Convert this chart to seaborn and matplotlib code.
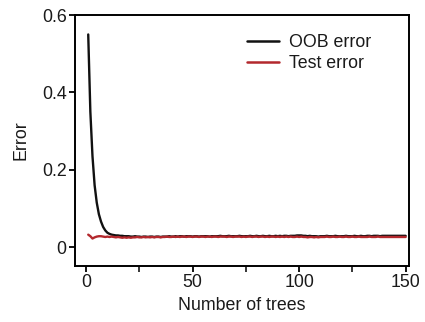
import numpy as np
import pandas as pd
import matplotlib
matplotlib.use("Agg")
import matplotlib.pyplot as plt
import seaborn as sns

trees = list(range(1, 151))

oob_error = [
    0.550, 0.350, 0.235, 0.160, 0.115, 0.085, 0.066, 0.052, 0.043, 0.037,
    0.034, 0.032, 0.031, 0.030, 0.030, 0.029, 0.029, 0.028, 0.028, 0.028,
    0.027, 0.027, 0.028, 0.027, 0.027, 0.026, 0.027, 0.027, 0.026, 0.027,
    0.027, 0.026, 0.027, 0.027, 0.026, 0.027, 0.027, 0.027, 0.028, 0.027,
    0.027, 0.028, 0.027, 0.028, 0.028, 0.027, 0.028, 0.028, 0.028, 0.027,
    0.028, 0.028, 0.027, 0.028, 0.028, 0.028, 0.028, 0.027, 0.028, 0.028,
    0.028, 0.028, 0.029, 0.028, 0.028, 0.028, 0.029, 0.028, 0.028, 0.028,
    0.028, 0.029, 0.028, 0.028, 0.028, 0.028, 0.029, 0.028, 0.028, 0.029,
    0.028, 0.028, 0.029, 0.028, 0.028, 0.029, 0.028, 0.028, 0.029, 0.028,
    0.029, 0.028, 0.029, 0.029, 0.028, 0.029, 0.029, 0.029, 0.030, 0.030,
    0.030, 0.029, 0.029, 0.028, 0.029, 0.028, 0.028, 0.028, 0.027, 0.028,
    0.028, 0.028, 0.029, 0.028, 0.028, 0.028, 0.029, 0.028, 0.028, 0.028,
    0.028, 0.029, 0.028, 0.028, 0.028, 0.029, 0.028, 0.028, 0.029, 0.028,
    0.028, 0.029, 0.029, 0.028, 0.029, 0.029, 0.029, 0.028, 0.029, 0.029,
    0.029, 0.029, 0.029, 0.029, 0.029, 0.029, 0.029, 0.029, 0.029, 0.029,
]

test_error = [
    0.032, 0.028, 0.022, 0.025, 0.027, 0.028, 0.028, 0.027, 0.026, 0.027,
    0.026, 0.027, 0.026, 0.025, 0.026, 0.025, 0.024, 0.025, 0.024, 0.025,
    0.024, 0.025, 0.025, 0.026, 0.025, 0.025, 0.026, 0.025, 0.026, 0.025,
    0.026, 0.025, 0.026, 0.026, 0.025, 0.026, 0.026, 0.027, 0.026, 0.026,
    0.027, 0.026, 0.027, 0.026, 0.027, 0.027, 0.026, 0.027, 0.027, 0.026,
    0.027, 0.027, 0.026, 0.027, 0.027, 0.026, 0.027, 0.027, 0.026, 0.027,
    0.027, 0.026, 0.027, 0.027, 0.027, 0.026, 0.027, 0.027, 0.026, 0.027,
    0.027, 0.027, 0.026, 0.027, 0.026, 0.027, 0.027, 0.026, 0.027, 0.027,
    0.026, 0.027, 0.027, 0.026, 0.027, 0.026, 0.027, 0.027, 0.026, 0.027,
    0.026, 0.027, 0.026, 0.027, 0.026, 0.027, 0.026, 0.026, 0.027, 0.026,
    0.027, 0.026, 0.026, 0.025, 0.026, 0.026, 0.025, 0.026, 0.025, 0.026,
    0.026, 0.026, 0.027, 0.026, 0.026, 0.027, 0.026, 0.026, 0.027, 0.026,
    0.026, 0.027, 0.026, 0.026, 0.027, 0.026, 0.026, 0.027, 0.026, 0.026,
    0.026, 0.026, 0.027, 0.026, 0.026, 0.026, 0.027, 0.026, 0.026, 0.026,
    0.026, 0.026, 0.026, 0.026, 0.026, 0.026, 0.026, 0.026, 0.026, 0.026,
]

series_names = ["OOB error", "Test error"]
colors = ["#111111", "#b3282d"]

x_ticks = [0, 50, 100, 150]
x_minor = [25, 75, 125]
y_ticks = [0, 0.2, 0.4, 0.6]
y_labels = ["0", "0.2", "0.4", "0.6"]

df = pd.DataFrame({
    "Number of trees": trees * 2,
    "Error": oob_error + test_error,
    "series": [series_names[0]] * len(trees) + [series_names[1]] * len(trees),
})

sns.set_style("ticks")
plt.rcParams["font.family"] = ["Liberation Sans", "DejaVu Sans"]

FS = 12.8

fig = plt.figure(figsize=(4.25, 3.22), dpi=100)
ax = fig.add_axes([0.1765, 0.174, 0.7855, 0.779])

sns.lineplot(data=df, x="Number of trees", y="Error", hue="series",
             palette=dict(zip(series_names, colors)), linewidth=1.7, ax=ax,
             legend=True)

ax.set_xlim(-5.2, 151.5)
ax.set_ylim(-0.049, 0.6)
ax.set_xticks(x_ticks)
ax.set_xticks(x_minor, minor=True)
ax.set_yticks(y_ticks)
ax.set_yticklabels(y_labels)

for sp in ax.spines.values():
    sp.set_visible(True)
    sp.set_linewidth(1.4)
    sp.set_color("black")

ax.tick_params(axis="both", which="major", direction="out", length=4, width=1.3,
               labelsize=FS, colors="black", labelcolor="#1a1a1a", pad=2)
ax.tick_params(axis="x", which="minor", direction="out", length=4, width=1.3)

ax.set_xlabel("Number of trees", fontsize=FS, labelpad=4, color="#1a1a1a")
ax.set_ylabel("Error", fontsize=FS, labelpad=9, color="#1a1a1a")

handles, labels = ax.get_legend_handles_labels()
leg = ax.legend(handles, labels, loc="upper left",
                bbox_to_anchor=(247 / 425, 1 - 34 / 322), bbox_transform=fig.transFigure,
                frameon=False, fontsize=FS, handlelength=1.8, handletextpad=0.55,
                labelspacing=0.25, borderaxespad=0, borderpad=0)
for line in leg.get_lines():
    line.set_linewidth(1.8)
for t in leg.get_texts():
    t.set_color("#1a1a1a")

fig.savefig("out.png", dpi=100)
